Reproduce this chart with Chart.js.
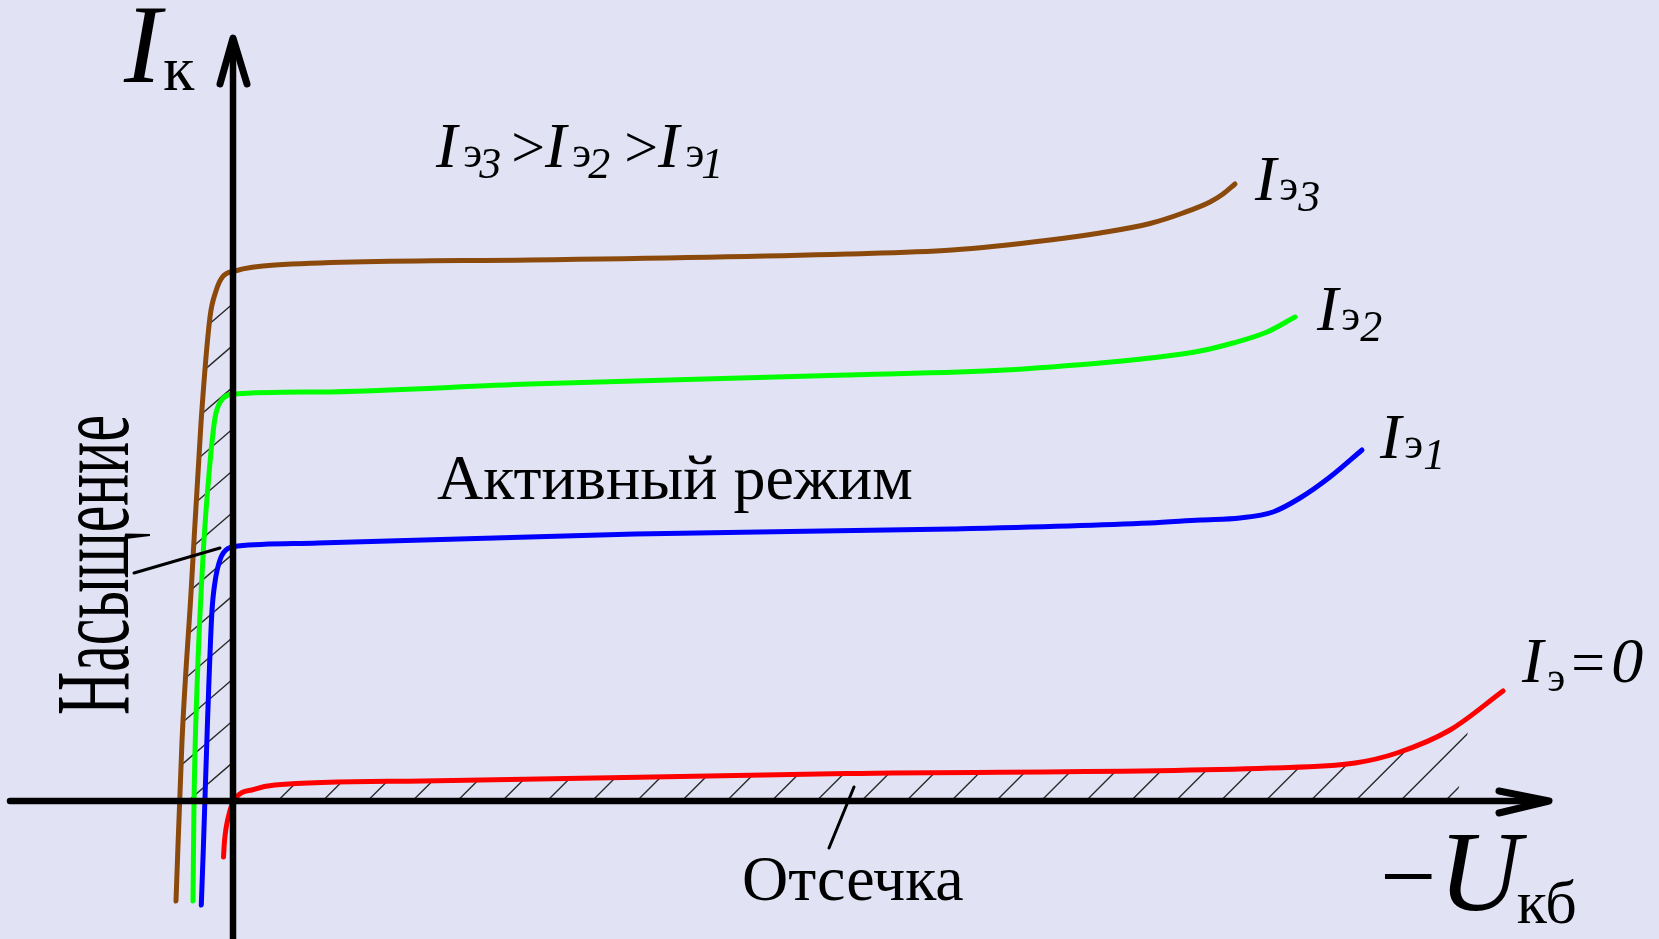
<!DOCTYPE html>
<html>
<head>
<meta charset="utf-8">
<script src="https://cdn.jsdelivr.net/npm/chart.js"></script>
<style>
  html, body { margin: 0; padding: 0; background: #e1e3f5; }
  canvas { display: block; }
</style>
</head>
<body>
<canvas id="chart" width="1659" height="939"></canvas>
<script>
// output characteristics, common base: x = -Uкб, y = Iк (arbitrary units)
const ie3U = [-5.7, -5.1, -4.2, -3.2, -2.3, -1.7, -1.06, 0.2, 4.2, 29.6, 61.4, 71.9, 81.7, 86.7, 91.7, 95.0, 97.7, 99.0, 100.2];
const ie3I = [-10.0, 6.0, 20.8, 37.8, 48.4, 51.0, 52.4, 53.0, 53.6, 54.1, 54.7, 55.1, 56.1, 56.8, 57.75, 58.8, 59.9, 60.7, 61.7];

const ie2U = [-4.0, -3.9, -3.6, -2.96, -2.33, -1.8, -1.27, 0.2, 8.5, 29.6, 61.4, 77.2, 87.8, 91.7, 96.7, 100.0, 103.4, 106.2];
const ie2I = [-10.0, -0.3, 11.3, 25.1, 33.5, 38.3, 39.9, 40.7, 40.9, 41.7, 42.6, 43.1, 43.9, 44.3, 45.0, 45.8, 46.9, 48.4];

const ie1U = [-3.17, -2.96, -2.54, -2.12, -1.8, -1.27, -0.42, 0.5, 8.5, 40.2, 71.9, 91.7, 96.7, 100.7, 104.0, 106.7, 109.7, 112.9];
const ie1I = [-10.4, -4.6, 8.2, 18.7, 21.9, 24.2, 25.3, 25.5, 25.8, 26.7, 27.2, 27.8, 28.1, 28.3, 28.9, 30.3, 32.4, 35.1];

const ie0U = [-0.95, -0.85, -0.42, 0.2, 2.1, 4.2, 19.0, 61.4, 103.7, 112.2, 116.4, 121.7, 127.0];
const ie0I = [-5.6, -4.0, -1.4, 0.2, 1.16, 1.6, 2.0, 2.75, 3.3, 3.8, 4.8, 7.1, 11.0];

const curveLabels = ['Iэ3', 'Iэ2', 'Iэ1', 'Iэ=0'];
const curveColors = ['#8b4a0c', '#00ff00', '#0000ff', '#ff0000'];

const xMin = -23.3, xMax = 142.6, yMin = -13.8, yMax = 80.1;

const pts = (us, is) => us.map((u, i) => ({ x: u, y: is[i] }));

const SERIF = '"Liberation Serif", "Times New Roman", serif';

function tracePath(ctx, p) {
  ctx.moveTo(p[0].x, p[0].y);
  for (let i = 1; i < p.length; i++) {
    ctx.bezierCurveTo(p[i - 1].cp2x, p[i - 1].cp2y, p[i].cp1x, p[i].cp1y, p[i].x, p[i].y);
  }
}

function curvePoints(chart, idx) {
  const meta = chart.getDatasetMeta(idx);
  meta.dataset.updateControlPoints(chart.chartArea, 'x');
  return meta.data;
}

// hatched saturation and cutoff regions
const hatchPlugin = {
  id: 'hatch',
  beforeDatasetsDraw(chart) {
    const ctx = chart.ctx;
    const sx = chart.scales.x, sy = chart.scales.y;
    const ax = sx.getPixelForValue(0), ay = sy.getPixelForValue(0);
    const H = chart.height;

    ctx.save();
    ctx.strokeStyle = '#2a2a2a';
    ctx.lineWidth = 1.4;

    // saturation: between Iэ3 curve and the current axis
    const p3 = curvePoints(chart, 0);
    ctx.save();
    ctx.beginPath();
    ctx.rect(0, 0, ax - 2, ay - 2);
    ctx.clip();
    ctx.beginPath();
    tracePath(ctx, p3);
    ctx.lineTo(p3[p3.length - 1].x, H);
    ctx.lineTo(p3[0].x, H);
    ctx.closePath();
    ctx.clip();
    ctx.beginPath();
    for (let yA = 387 - 41.7 * 4; yA < ay + 60; yA += 41.7) {
      ctx.moveTo(ax, yA);
      ctx.lineTo(ax - 200, yA + 200 * 0.86);
    }
    ctx.stroke();
    ctx.restore();

    // cutoff: between Iэ=0 curve and the voltage axis
    const p0 = curvePoints(chart, 3);
    const endTop = sx.getPixelForValue(124.0), endBot = sx.getPixelForValue(122.4);
    ctx.save();
    ctx.beginPath();
    ctx.moveTo(ax + 3, 0);
    ctx.lineTo(endTop + (endTop - endBot) * 7, 0);
    ctx.lineTo(endBot, ay - 2);
    ctx.lineTo(ax + 3, ay - 2);
    ctx.closePath();
    ctx.clip();
    ctx.beginPath();
    tracePath(ctx, p0);
    ctx.lineTo(p0[p0.length - 1].x, ay);
    ctx.lineTo(p0[0].x, ay);
    ctx.closePath();
    ctx.clip();
    ctx.beginPath();
    for (let x = 726.7 - 44.9 * 12; x < endBot + 50; x += 44.9) {
      ctx.moveTo(x, ay);
      ctx.lineTo(x + 150, ay - 150);
    }
    ctx.stroke();
    ctx.restore();

    ctx.restore();
  }
};

function drawRich(ctx, x, y, parts) {
  for (const p of parts) {
    x += p.dx || 0;
    ctx.font = p.f;
    ctx.fillText(p.t, x, y + (p.dy || 0));
    x += ctx.measureText(p.t).width;
  }
}

function ie(sub, gap, subGap) {
  return [
    { t: 'I', f: 'italic 64px ' + SERIF },
    { t: 'э', f: '44px ' + SERIF, dx: gap },
    { t: sub, f: 'italic 44px ' + SERIF, dy: 11, dx: subGap }
  ];
}

// axes with arrows and all the annotations
const axesPlugin = {
  id: 'axesText',
  beforeDraw(chart) {
    const ctx = chart.ctx;
    ctx.save();
    ctx.fillStyle = '#e1e3f5';
    ctx.fillRect(0, 0, chart.width, chart.height);
    ctx.restore();
  },
  afterDatasetsDraw(chart) {
    const ctx = chart.ctx;
    const sx = chart.scales.x, sy = chart.scales.y;
    const ax = sx.getPixelForValue(0), ay = sy.getPixelForValue(0);
    ctx.save();
    ctx.strokeStyle = '#000';
    ctx.fillStyle = '#000';
    ctx.lineCap = 'round';
    ctx.lineJoin = 'round';

    // axes
    ctx.lineWidth = 6.5;
    ctx.beginPath();
    ctx.moveTo(ax, chart.height + 5);
    ctx.lineTo(ax, 40);
    ctx.moveTo(10, ay);
    ctx.lineTo(1546, ay);
    ctx.stroke();
    ctx.lineWidth = 7;
    ctx.beginPath();
    ctx.moveTo(ax - 13, 84);
    ctx.lineTo(ax, 38);
    ctx.lineTo(ax + 14, 84);
    ctx.moveTo(1499, ay - 10);
    ctx.lineTo(1549, ay);
    ctx.lineTo(1499, ay + 12);
    ctx.stroke();

    // pointer lines
    ctx.lineWidth = 3;
    ctx.beginPath();
    ctx.moveTo(134, 573);
    ctx.lineTo(220, 548);
    ctx.moveTo(829, 848);
    ctx.lineTo(854, 787);
    ctx.stroke();

    ctx.textBaseline = 'alphabetic';
    ctx.textAlign = 'left';

    // axis titles
    drawRich(ctx, 124, 82, [
      { t: 'I', f: 'italic 112px ' + SERIF },
      { t: 'к', f: '64px ' + SERIF, dx: 2, dy: 8 }
    ]);
    drawRich(ctx, 1380, 910, [
      { t: '−', f: '100px ' + SERIF },
      { t: 'U', f: 'italic 114px ' + SERIF, dx: 2 },
      { t: 'кб', f: '62px ' + SERIF, dx: -4, dy: 13 }
    ]);

    // ordering of emitter currents
    drawRich(ctx, 436, 167, [
      ...ie('3', 6, -3),
      { t: '>', f: '60px ' + SERIF, dx: 10 },
      ...ie('2', 6, -3),
      { t: '>', f: '60px ' + SERIF, dx: 14 },
      ...ie('1', 6, -3)
    ]);

    // curve labels
    drawRich(ctx, 1255, 200, ie('3', 3, 0));
    drawRich(ctx, 1317, 330, ie('2', 3, 0));
    drawRich(ctx, 1380, 458, ie('1', 3, 0));
    drawRich(ctx, 1522, 682, [
      { t: 'I', f: 'italic 64px ' + SERIF },
      { t: 'э', f: '42px ' + SERIF, dx: 4, dy: 9 },
      { t: '=', f: '60px ' + SERIF, dx: 6 },
      { t: '0', f: 'italic 64px ' + SERIF, dx: 6 }
    ]);

    // regions
    ctx.font = '64px ' + SERIF;
    ctx.fillText('Активный режим', 437, 499);
    ctx.fillText('Отсечка', 742, 900);

    // saturation label: tall, narrow glyphs
    ctx.save();
    ctx.font = '106px ' + SERIF;
    const w = ctx.measureText('Насыщение').width;
    ctx.translate(128, 565);
    ctx.rotate(-Math.PI / 2);
    ctx.scale(300 / w, 1);
    ctx.textAlign = 'center';
    ctx.fillText('Насыщение', 0, 0);
    ctx.restore();

    ctx.restore();
  }
};

const seriesU = [ie3U, ie2U, ie1U, ie0U];
const seriesI = [ie3I, ie2I, ie1I, ie0I];

new Chart(document.getElementById('chart'), {
  type: 'line',
  data: {
    datasets: curveLabels.map((label, i) => ({
      label,
      data: pts(seriesU[i], seriesI[i]),
      borderColor: curveColors[i],
      borderWidth: 5,
      borderCapStyle: 'round',
      borderJoinStyle: 'round',
      pointRadius: 0,
      cubicInterpolationMode: 'monotone',
      fill: false,
      clip: false
    }))
  },
  options: {
    responsive: false,
    animation: false,
    events: [],
    layout: { padding: 0 },
    plugins: { legend: { display: false }, tooltip: { enabled: false } },
    scales: {
      x: { type: 'linear', display: false, min: xMin, max: xMax },
      y: { type: 'linear', display: false, min: yMin, max: yMax }
    }
  },
  plugins: [hatchPlugin, axesPlugin]
});
</script>
</body>
</html>
